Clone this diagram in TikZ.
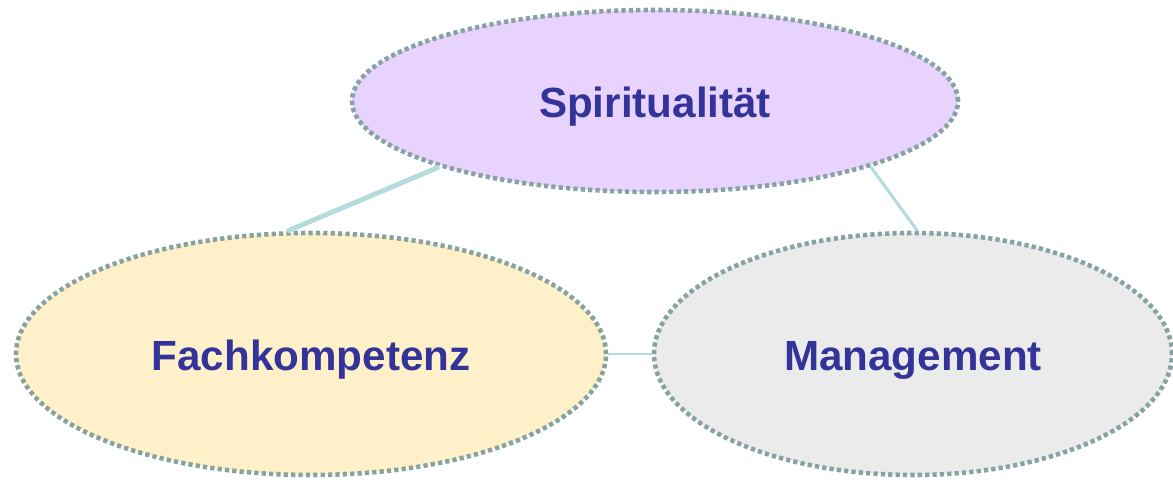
\documentclass[tikz,border=0pt]{standalone}
\usepackage{fontspec}
\setmainfont{Liberation Sans}
\usetikzlibrary{shapes.geometric}
\definecolor{lilac}{HTML}{E8D3FE}
\definecolor{cream}{HTML}{FEF0C8}
\definecolor{pale}{HTML}{EBEBEB}
\definecolor{rim}{HTML}{86A2A2}
\definecolor{link}{HTML}{B4DCDC}
\definecolor{ink}{HTML}{333399}

\begin{document}
\begin{tikzpicture}[area/.style={ellipse, draw=rim, line width=2.6pt, dash pattern=on 2.4pt off 1.8pt, inner sep=0pt, minimum height=4.84cm, text height=19pt, text depth=0pt, font=\fontsize{24}{28}\selectfont\bfseries, text=ink}, tie/.style={draw=link, line width=1.7pt}]
	\useasboundingbox (0,0) rectangle (23.46,9.58);

	\node (spirit) at (13.1, 7.56) [area, fill=lilac, minimum width=12.12cm, minimum height=3.64cm] {Spiritualität};
	\node (fach) at (6.22, 2.5) [area, fill=cream, minimum width=11.8cm] {Fachkompetenz};
	\node (mgmt) at (18.26, 2.5) [area, fill=pale, minimum width=10.36cm] {Management};

	% links run border to border
	\draw [tie, line width=2.8pt] (spirit.197) -- (fach.101);
	\draw [tie] (spirit.343) -- (mgmt.88);
	\draw [tie] (fach.east) -- (mgmt.west);
\end{tikzpicture}
\end{document}
